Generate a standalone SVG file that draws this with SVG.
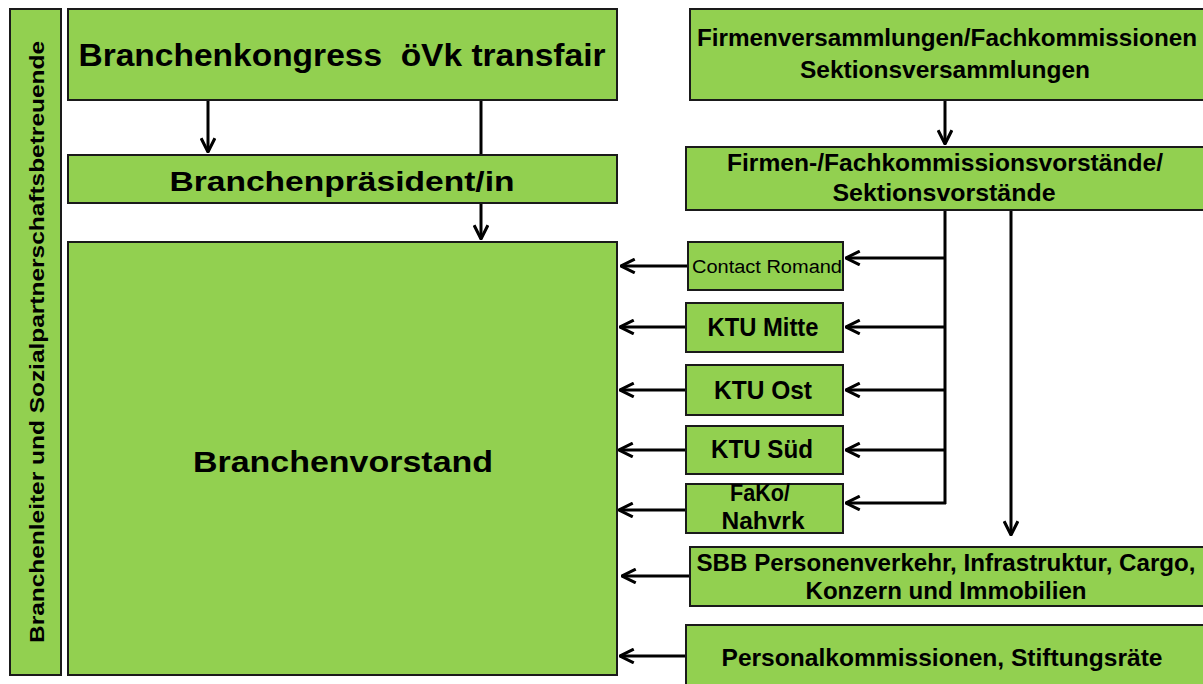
<svg xmlns="http://www.w3.org/2000/svg" width="1203" height="684" viewBox="0 0 1203 684">
<style>
.box{fill:#92D050;stroke:#1a1a1a;stroke-width:2}
.t{font-family:"Liberation Sans",Arial,sans-serif;font-weight:bold;fill:#000;text-anchor:middle}
.n{font-family:"Liberation Sans Narrow","Liberation Sans",Arial,sans-serif;font-weight:bold;fill:#000;text-anchor:middle}
.c{fill:none;stroke:#000;stroke-width:3}
</style>
<defs>
<marker id="ah" viewBox="0 0 12 12" refX="11" refY="6" markerWidth="5.5" markerHeight="5.5" orient="auto" markerUnits="strokeWidth">
<path d="M1,1 L11,6 L1,11" fill="none" stroke="#000" stroke-width="2.2"/>
</marker>
</defs>
<rect width="1203" height="684" fill="#fff"/>
<g id="connectors">
<line class="c" x1="208" y1="100" x2="208" y2="152" marker-end="url(#ah)"/>
<line class="c" x1="481" y1="100" x2="481" y2="155"/>
<line class="c" x1="481" y1="203" x2="481" y2="239" marker-end="url(#ah)"/>
<line class="c" x1="945" y1="100" x2="945" y2="144" marker-end="url(#ah)"/>
<polyline class="c" points="945,210 945,504"/>
<line class="c" x1="945" y1="258" x2="846" y2="258" marker-end="url(#ah)"/>
<line class="c" x1="945" y1="327" x2="846" y2="327" marker-end="url(#ah)"/>
<line class="c" x1="945" y1="390" x2="846" y2="390" marker-end="url(#ah)"/>
<line class="c" x1="945" y1="450" x2="846" y2="450" marker-end="url(#ah)"/>
<line class="c" x1="946" y1="503" x2="846" y2="503" marker-end="url(#ah)"/>
<line class="c" x1="1011" y1="210" x2="1011" y2="535" marker-end="url(#ah)"/>
<line class="c" x1="688" y1="266" x2="621" y2="266" marker-end="url(#ah)"/>
<line class="c" x1="686" y1="327" x2="620" y2="327" marker-end="url(#ah)"/>
<line class="c" x1="686" y1="390" x2="620" y2="390" marker-end="url(#ah)"/>
<line class="c" x1="686" y1="450" x2="619" y2="450" marker-end="url(#ah)"/>
<line class="c" x1="686" y1="510" x2="619" y2="510" marker-end="url(#ah)"/>
<line class="c" x1="690" y1="576" x2="622" y2="576" marker-end="url(#ah)"/>
<line class="c" x1="686" y1="656" x2="620" y2="656" marker-end="url(#ah)"/>
</g>
<g id="leftbar">
<rect class="box" x="10" y="9" width="51" height="666"/>
<text class="t" transform="translate(44,342) rotate(-90)" font-size="20" textLength="602" lengthAdjust="spacingAndGlyphs">Branchenleiter und Sozialpartnerschaftsbetreuende</text>
</g>
<g id="kongress">
<rect class="box" x="68" y="9" width="549" height="91"/>
<text class="t" x="342" y="66" font-size="31" style="white-space:pre" textLength="527" lengthAdjust="spacingAndGlyphs">Branchenkongress  öVk transfair</text>
</g>
<g id="praesident">
<rect class="box" x="68" y="155" width="549" height="48"/>
<text class="t" x="342" y="191" font-size="27" textLength="345" lengthAdjust="spacingAndGlyphs">Branchenpräsident/in</text>
</g>
<g id="vorstand">
<rect class="box" x="68" y="242" width="549" height="433"/>
<text class="t" x="343" y="472" font-size="29" textLength="300" lengthAdjust="spacingAndGlyphs">Branchenvorstand</text>
</g>
<g id="firmenvers">
<rect class="box" x="690" y="9" width="520" height="91"/>
<text class="n" x="947" y="46" font-size="24" textLength="500" lengthAdjust="spacingAndGlyphs">Firmenversammlungen/Fachkommissionen</text>
<text class="n" x="945" y="78" font-size="24" textLength="290" lengthAdjust="spacingAndGlyphs">Sektionsversammlungen</text>
</g>
<g id="firmenvorst">
<rect class="box" x="686" y="147" width="524" height="63"/>
<text class="n" x="945" y="171" font-size="24" textLength="436" lengthAdjust="spacingAndGlyphs">Firmen-/Fachkommissionsvorstände/</text>
<text class="n" x="944" y="201" font-size="24" textLength="223" lengthAdjust="spacingAndGlyphs">Sektionsvorstände</text>
</g>
<g id="contact">
<rect class="box" x="688" y="242" width="155" height="48"/>
<text class="n" x="767" y="273" font-size="18" style="font-weight:normal" textLength="150" lengthAdjust="spacingAndGlyphs">Contact Romand</text>
</g>
<g id="ktumitte">
<rect class="box" x="686" y="303" width="157" height="49"/>
<text class="n" x="763" y="336" font-size="25" textLength="111" lengthAdjust="spacingAndGlyphs">KTU Mitte</text>
</g>
<g id="ktuost">
<rect class="box" x="686" y="365" width="157" height="50"/>
<text class="n" x="763" y="399" font-size="25" textLength="98" lengthAdjust="spacingAndGlyphs">KTU Ost</text>
</g>
<g id="ktusued">
<rect class="box" x="686" y="426" width="157" height="48"/>
<text class="n" x="762" y="458" font-size="25" textLength="102" lengthAdjust="spacingAndGlyphs">KTU Süd</text>
</g>
<g id="fako">
<rect class="box" x="686" y="484" width="157" height="49"/>
<text class="n" x="760" y="501" font-size="24" textLength="60" lengthAdjust="spacingAndGlyphs">FaKo/</text>
<text class="n" x="763" y="529" font-size="24" textLength="83" lengthAdjust="spacingAndGlyphs">Nahvrk</text>
</g>
<g id="sbb">
<rect class="box" x="690" y="547" width="520" height="59"/>
<text class="n" x="946" y="571" font-size="24" textLength="499" lengthAdjust="spacingAndGlyphs">SBB Personenverkehr, Infrastruktur, Cargo,</text>
<text class="n" x="946" y="599" font-size="24" textLength="281" lengthAdjust="spacingAndGlyphs">Konzern und Immobilien</text>
</g>
<g id="personal">
<rect class="box" x="686" y="625" width="524" height="62"/>
<text class="n" x="942" y="666" font-size="24" textLength="441" lengthAdjust="spacingAndGlyphs">Personalkommissionen, Stiftungsräte</text>
</g>
</svg>
